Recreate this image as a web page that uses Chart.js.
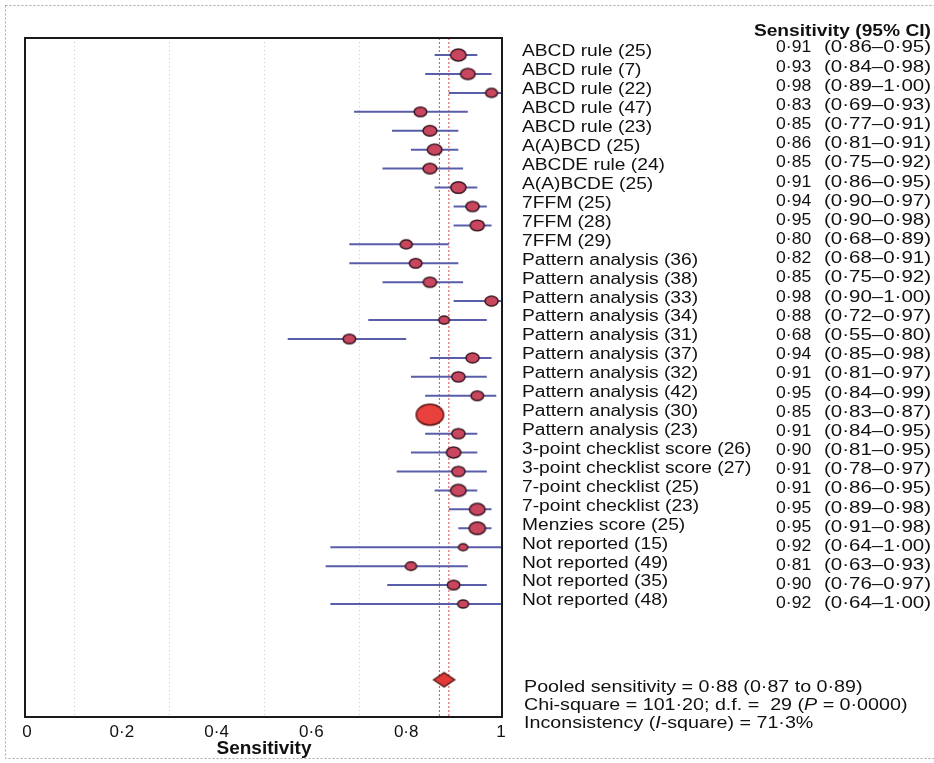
<!DOCTYPE html>
<html><head><meta charset="utf-8">
<script src="https://cdn.jsdelivr.net/npm/chart.js@4.4.1/dist/chart.umd.min.js"></script>
<style>html,body{margin:0;padding:0;background:#fff;}canvas{display:block;}</style>
</head><body>
<canvas id="c" width="934" height="763"></canvas>
<script>
const studyLabels = [
  'ABCD rule (25)','ABCD rule (7)','ABCD rule (22)','ABCD rule (47)','ABCD rule (23)',
  'A(A)BCD (25)','ABCDE rule (24)','A(A)BCDE (25)','7FFM (25)','7FFM (28)','7FFM (29)',
  'Pattern analysis (36)','Pattern analysis (38)','Pattern analysis (33)','Pattern analysis (34)',
  'Pattern analysis (31)','Pattern analysis (37)','Pattern analysis (32)','Pattern analysis (42)',
  'Pattern analysis (30)','Pattern analysis (23)','3-point checklist score (26)',
  '3-point checklist score (27)','7-point checklist (25)','7-point checklist (23)',
  'Menzies score (25)','Not reported (15)','Not reported (49)','Not reported (35)','Not reported (48)'
];
const sensitivity = [0.91,0.93,0.98,0.83,0.85,0.86,0.85,0.91,0.94,0.95,0.80,0.82,0.85,0.98,0.88,0.68,0.94,0.91,0.95,0.85,0.91,0.90,0.91,0.91,0.95,0.95,0.92,0.81,0.90,0.92];
const ciLower = [0.86,0.84,0.89,0.69,0.77,0.81,0.75,0.86,0.90,0.90,0.68,0.68,0.75,0.90,0.72,0.55,0.85,0.81,0.84,0.83,0.84,0.81,0.78,0.86,0.89,0.91,0.64,0.63,0.76,0.64];
const ciUpper = [0.95,0.98,1.00,0.93,0.91,0.91,0.92,0.95,0.97,0.98,0.89,0.91,0.92,1.00,0.97,0.80,0.98,0.97,0.99,0.87,0.95,0.95,0.97,0.95,0.98,0.98,1.00,0.93,0.97,1.00];
// marker half-heights (study weight), a style array
const markerSize = [6.7,6.3,5.2,5.5,6.0,6.3,6.0,6.5,5.8,6.1,5.3,5.5,5.8,5.7,4.7,5.5,5.7,5.8,5.5,11.3,5.8,6.2,5.8,6.7,6.7,7.0,4.2,5.0,5.5,4.8];
const pooledEstimate = [0.88];
const pooledLower = [0.87];
const pooledUpper = [0.89];
const xTickValues = [0,0.2,0.4,0.6,0.8,1];
const xTickLabels = ['0','0·2','0·4','0·6','0·8','1'];
const gridValues = [0.1,0.3,0.5,0.7];
const headerText = 'Sensitivity (95% CI)';
const axisTitle = 'Sensitivity';
const footerLines = [
  [['Pooled sensitivity = 0·88 (0·87 to 0·89)', false]],
  [['Chi-square = 101·20; d.f. =  29 (', false], ['P', true], [' = 0·0000)', false]],
  [['Inconsistency (', false], ['I', true], ['-square) = 71·3%', false]]
];

const FAMILY = '"Liberation Sans", Arial, Helvetica, sans-serif';
const SX = 1.2;
const Y_MIN = -0.9, Y_MAX = 34.97;
const DIAMOND_ROW = studyLabels.length + 3;
const fmt = v => v.toFixed(2).replace('.', '·');

function ellipseImg(ry, fill, stroke) {
  const lw = 1.5;
  const rx = ry * 1.28;
  const c = document.createElement('canvas');
  c.width = Math.ceil(2 * rx + 2); c.height = Math.ceil(2 * ry + 2);
  const g = c.getContext('2d');
  g.beginPath();
  g.ellipse(c.width / 2, c.height / 2, rx - lw / 2, ry - lw / 2, 0, 0, Math.PI * 2);
  g.fillStyle = fill; g.fill();
  g.lineWidth = lw; g.strokeStyle = stroke; g.stroke();
  return c;
}
function diamondImg(w, h, fill, stroke) {
  const c = document.createElement('canvas');
  c.width = w + 4; c.height = h + 4;
  const g = c.getContext('2d');
  const cx = c.width / 2, cy = c.height / 2;
  g.beginPath();
  g.moveTo(cx - w / 2, cy); g.lineTo(cx, cy - h / 2); g.lineTo(cx + w / 2, cy); g.lineTo(cx, cy + h / 2); g.closePath();
  g.fillStyle = fill; g.fill(); g.lineWidth = 1.5; g.strokeStyle = stroke; g.stroke();
  return c;
}

const markerImages = markerSize.map(r => r > 10 ? ellipseImg(r, '#e8403c', '#5e1616') : ellipseImg(r, '#c9465f', '#3a1520'));

const ciData = [];
sensitivity.forEach((v, i) => {
  ciData.push({x: ciLower[i], y: i}, {x: ciUpper[i], y: i}, {x: ciUpper[i], y: null});
});

function drawRuns(ctx, runs, x, y, size, sx) {
  ctx.save();
  ctx.translate(x, y); ctx.scale(sx, 1);
  ctx.textBaseline = 'middle'; ctx.textAlign = 'left'; ctx.fillStyle = '#111';
  let cx = 0;
  runs.forEach(([t, it]) => {
    ctx.font = (it ? 'italic ' : '') + size + 'px ' + FAMILY;
    ctx.fillText(t, cx, 0);
    cx += ctx.measureText(t).width;
  });
  ctx.restore();
}
function sText(ctx, t, x, y, font, sx, align) {
  ctx.save();
  ctx.translate(x, y); ctx.scale(sx, 1);
  ctx.font = font; ctx.textBaseline = 'middle'; ctx.textAlign = align || 'left'; ctx.fillStyle = '#111';
  ctx.fillText(t, 0, 0);
  ctx.restore();
}

const forestPlugin = {
  id: 'forest',
  beforeDatasetsDraw(chart) {
    const {ctx, chartArea: a, scales: {x}} = chart;
    ctx.save();
    ctx.strokeStyle = 'rgba(140,140,140,0.45)';
    ctx.lineWidth = 1; ctx.setLineDash([1, 3]);
    gridValues.forEach(v => {
      const px = Math.round(x.getPixelForValue(v)) + 0.5;
      ctx.beginPath(); ctx.moveTo(px, a.top); ctx.lineTo(px, a.bottom); ctx.stroke();
    });
    ctx.restore();
  },
  afterDraw(chart) {
    const {ctx, chartArea: a, scales: {y}} = chart;
    ctx.save();
    ctx.strokeStyle = '#a8a8a8'; ctx.lineWidth = 1; ctx.setLineDash([2, 2]);
    ctx.strokeRect(5.5, 5.5, 940, 753);
    ctx.setLineDash([]);
    ctx.strokeStyle = '#1a1a1a'; ctx.lineWidth = 2;
    ctx.strokeRect(a.left - 2, a.top, a.right - a.left + 3, a.bottom - a.top);
    ctx.restore();

    const n = studyLabels.length;
    sText(ctx, headerText, 931, 32, 'bold 16px ' + FAMILY, SX, 'right');
    studyLabels.forEach((lab, i) => {
      const py = y.getPixelForValue(i);
      sText(ctx, lab, 522, py - 3, '16px ' + FAMILY, SX, 'left');
      const vy = py - 7 + 7 * i / (n - 1);
      sText(ctx, fmt(sensitivity[i]), 776, vy, '16px ' + FAMILY, 1.1, 'left');
      sText(ctx, '(' + fmt(ciLower[i]) + '–' + fmt(ciUpper[i]) + ')', 931, vy, '16px ' + FAMILY, 1.28, 'right');
    });
    footerLines.forEach((runs, k) => drawRuns(ctx, runs, 524, 688 + k * 18, 16, 1.23));
  }
};

new Chart(document.getElementById('c'), {
  type: 'scatter',
  data: {
    datasets: [
      {
        label: 'studies',
        data: sensitivity.map((v, i) => ({x: v, y: i})),
        pointStyle: markerImages,
        pointRadius: markerSize,
        pointHoverRadius: markerSize,
        order: 0
      },
      {
        label: 'pooled',
        data: pooledEstimate.map(v => ({x: v, y: DIAMOND_ROW})),
        pointStyle: diamondImg(21, 14, '#e23a36', '#5a1a1a'),
        pointRadius: 10,
        order: 0
      },
      {
        label: 'ci',
        type: 'line',
        data: ciData,
        showLine: true, spanGaps: false,
        borderColor: '#5a5ea8', borderWidth: 2,
        pointRadius: 0, fill: false,
        order: 2
      },
      {
        label: 'pooledLow',
        type: 'line',
        data: [{x: pooledLower[0], y: Y_MIN}, {x: pooledLower[0], y: Y_MAX}],
        borderColor: '#dc4646', borderWidth: 1, borderDash: [2, 2],
        pointRadius: 0, fill: false, order: 3
      },
      {
        label: 'pooledHigh',
        type: 'line',
        data: [{x: pooledUpper[0], y: Y_MIN}, {x: pooledUpper[0], y: Y_MAX}],
        borderColor: '#dc4646', borderWidth: 1, borderDash: [2, 2],
        pointRadius: 0, fill: false, order: 3
      }
    ]
  },
  options: {
    responsive: false,
    animation: false,
    devicePixelRatio: 1,
    layout: {padding: {left: 27, right: 433, top: 38, bottom: 0}},
    plugins: {legend: {display: false}, tooltip: {enabled: false}},
    scales: {
      x: {
        type: 'linear', min: 0, max: 1, position: 'bottom',
        afterBuildTicks: s => { s.ticks = xTickValues.map(v => ({value: v})); },
        afterFit: s => { s.height = 46; },
        ticks: {
          callback: (v, i) => xTickLabels[i],
          font: {family: FAMILY, size: 17}, color: '#111',
          padding: 5, maxRotation: 0, autoSkip: false
        },
        grid: {display: false, drawTicks: false},
        border: {display: false},
        title: {
          display: true, text: axisTitle, color: '#111',
          font: {family: FAMILY, size: 19, weight: 'bold'},
          padding: {top: 0, bottom: 3}
        }
      },
      y: {type: 'linear', min: Y_MIN, max: Y_MAX, reverse: true, display: false}
    }
  },
  plugins: [forestPlugin]
});
</script>
</body></html>
